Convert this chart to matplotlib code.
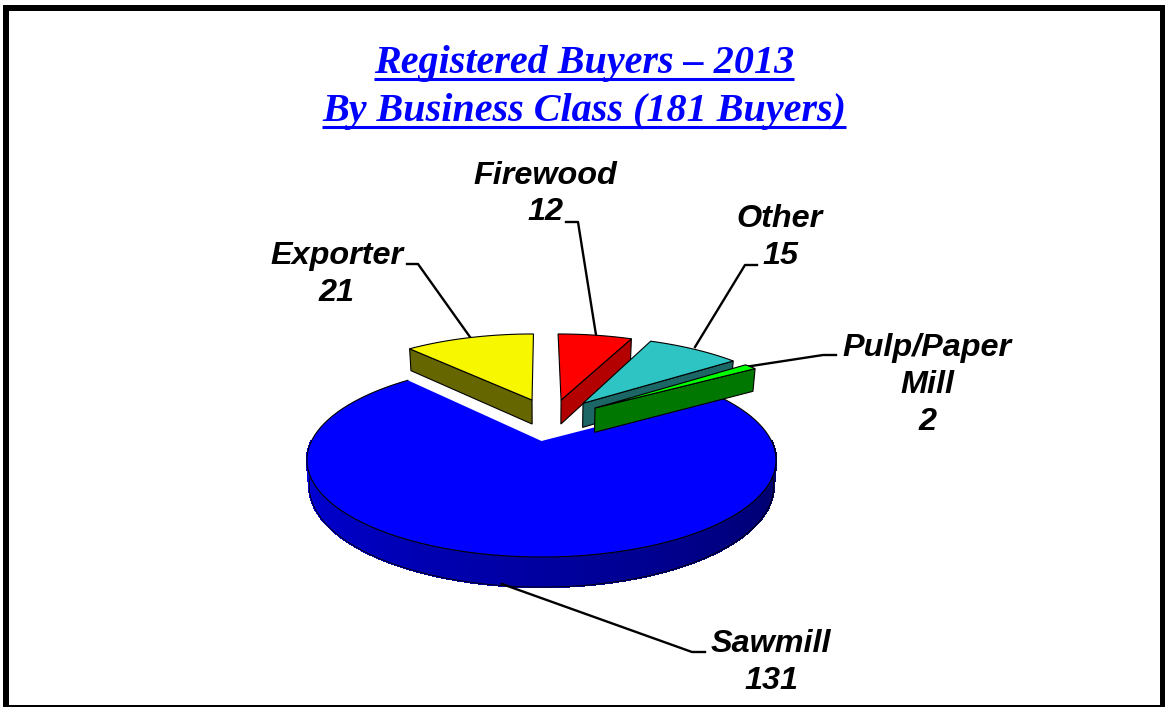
import numpy as np
import matplotlib
matplotlib.use('Agg')
import matplotlib.pyplot as plt
from matplotlib.patches import Polygon, Rectangle

# order is clockwise from the top, exporter ends at 12 o'clock
categories = ['Exporter', 'Firewood', 'Other', 'Pulp/Paper\nMill', 'Sawmill']
values = [21, 12, 15, 2, 131]
start_angle = -360 * 21 / 181

top_colors = ['#f7f700', '#ff0000', '#2ec4c4', '#00ff00', '#0000ff']
side_colors = ['#666600', '#b30000', '#1c6666', '#007700', '#0000a0']
# how far each slice is pulled out, in disc units (x, y)
offsets = [(-0.045, 0.48), (0.093, 0.48), (0.196, 0.439), (0.25, 0.38), (0, 0)]

CX, CY = 541.5, 441
A, B, K = 230, 93.3, 0.196
DEPTH = 25.6


def project(u, v, lower=False):
    w = 1 + K * v
    x = A * u / w
    y = -B * v / w
    if lower:
        return CX + x * 0.99, CY + y + DEPTH / w ** 0.73
    return CX + x, CY + y


def wedge_top(t0, t1, off):
    t = np.radians(np.linspace(t0, t1, 200))
    u = np.r_[0, np.sin(t)] + off[0]
    v = np.r_[0, np.cos(t)] + off[1]
    return np.column_stack(project(u, v))


def radial_side(t, off):
    a = np.radians(t)
    u = np.array([0, np.sin(a)]) + off[0]
    v = np.array([0, np.cos(a)]) + off[1]
    x0, y0 = project(u, v)
    x1, y1 = project(u, v, lower=True)
    return np.column_stack([np.r_[x0, x1[::-1]], np.r_[y0, y1[::-1]]])


fig = plt.figure(figsize=(11.65, 7.07), dpi=100)
ax = fig.add_axes([0, 0, 1, 1])
ax.set_xlim(0, 1165)
ax.set_ylim(707, 0)
ax.axis('off')

# frame, heavy on three sides and thin along the bottom
ax.add_patch(Rectangle((3, 5), 6, 702, fc='black', ec='none', zorder=1))
ax.add_patch(Rectangle((3, 5), 1162, 5.5, fc='black', ec='none', zorder=1))
ax.add_patch(Rectangle((1160, 5), 5, 702, fc='black', ec='none', zorder=1))
ax.add_patch(Rectangle((3, 705.3), 1162, 1.7, fc='black', ec='none', zorder=1))

edges = np.cumsum([0] + values) * 360 / sum(values) + start_angle

# sawmill first, its rim is shaded from left to right
t0, t1 = edges[4], edges[5]
rim = np.linspace(90, 270, 120)
shade_right = np.array([0, 0, 96]) / 255
shade_left = np.array([0, 0, 225]) / 255
for i in range(len(rim) - 1):
    a = np.radians(rim[i:i + 2])
    u, v = np.sin(a), np.cos(a)
    x0, y0 = project(u, v)
    x1, y1 = project(u, v, lower=True)
    frac = (rim[i] - 90) / 180
    col = shade_right + (shade_left - shade_right) * frac
    ax.add_patch(Polygon(np.column_stack([np.r_[x0, x1[::-1]], np.r_[y0, y1[::-1]]]),
                         fc=col, ec=col, lw=1.0, antialiased=False, zorder=2))
a = np.radians(rim)
xb, yb = project(np.sin(a), np.cos(a), lower=True)
ax.plot(xb, yb, color='black', lw=0.6, zorder=3)
saw = wedge_top(t0, t1, offsets[4])
ax.add_patch(Polygon(saw, fc=top_colors[4], ec='none', zorder=4))
ax.plot(saw[1:, 0], saw[1:, 1], color='black', lw=0.8, zorder=4)

# the other slices, left to right so pulp sits over other
side_angle = [edges[0], edges[2], edges[3], edges[4]]
for i in range(4):
    z = 5 + i
    ax.add_patch(Polygon(radial_side(side_angle[i], offsets[i]), fc=side_colors[i],
                         ec='black', lw=0.8, zorder=z))
    ax.add_patch(Polygon(wedge_top(edges[i], edges[i + 1], offsets[i]), fc=top_colors[i],
                         ec='black', lw=0.8, zorder=z))

# leaders
leaders = [
    ([407, 418, 470], [264, 264, 337]),
    ([566, 578, 596], [222, 222, 335]),
    ([757, 745, 695], [265, 265, 347]),
    ([836, 823, 748], [355, 355, 366.5]),
    ([705, 692, 502], [652, 652, 584]),
]
for lx, ly in leaders:
    ax.plot(lx, ly, color='black', lw=1.7, zorder=3)

label_pos = [(337, 274.5), (545, 194), (780, 237.5), (927, 385), (771, 662.5)]
for name, val, (lx, ly) in zip(categories, values, label_pos):
    ax.text(lx, ly, f'{name}\n{val}', ha='center', va='center', family='Liberation Sans',
            weight='bold', style='italic', fontsize=23.3, linespacing=1.3, color='black', zorder=10)

# title, matplotlib has no underline so it is drawn from the text extent
title_lines = ['Registered Buyers \u2013 2013', 'By Business Class (181 Buyers)']
title_base = [73, 121]
renderer = fig.canvas.get_renderer()
for line, base in zip(title_lines, title_base):
    t = ax.text(584, base, line, ha='center', va='baseline', family='Liberation Serif',
                weight='bold', style='italic', fontsize=28.9, color='#0000ff', zorder=10)
    bb = t.get_window_extent(renderer)
    ax.plot([bb.x0, bb.x1], [base + 6, base + 6], color='#0000ff', lw=2.2, solid_capstyle='butt', zorder=10)

fig.savefig('out.png', dpi=100)
